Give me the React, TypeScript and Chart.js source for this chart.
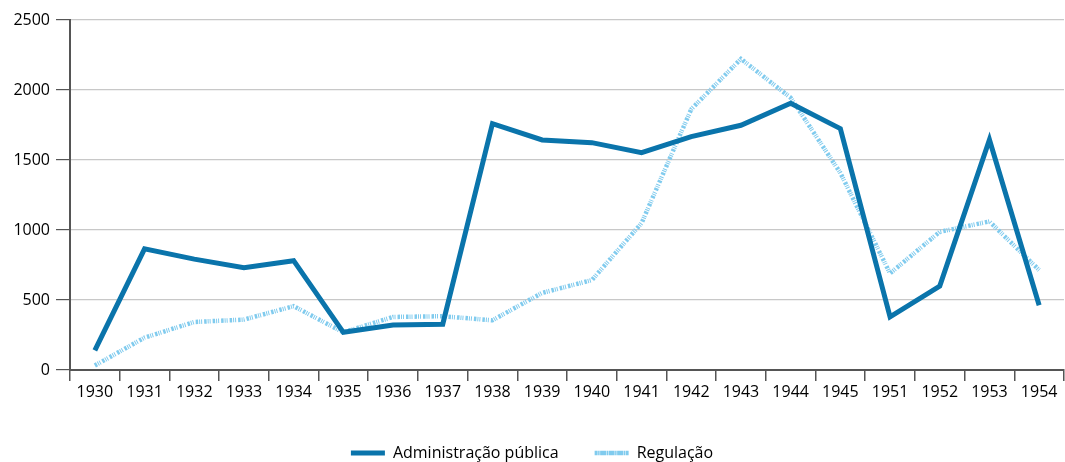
import React, { useEffect, useRef } from "react";
import { Chart, registerables } from "chart.js";

Chart.register(...registerables);

const years = ["1930","1931","1932","1933","1934","1935","1936","1937","1938","1939","1940","1941","1942","1943","1944","1945","1951","1952","1953","1954"];
const adminPublica = [140, 865, 792, 731, 781, 269, 322, 327, 1760, 1643, 1624, 1552, 1667, 1748, 1906, 1724, 379, 599, 1645, 463];
const regulacao = [32, 231, 343, 360, 456, 269, 379, 384, 355, 551, 642, 1049, 1863, 2222, 1945, 1408, 690, 987, 1061, 714];
const yTicks = [0, 500, 1000, 1500, 2000, 2500];

const FONT = "'Open Sans', 'Noto Sans', sans-serif";

export default function App() {
  const ref = useRef<HTMLCanvasElement | null>(null);
  useEffect(() => {
    document.body.style.margin = "0";
    const ctx = ref.current!.getContext("2d")!;
    const chart = new Chart(ctx, {
      type: "line",
      data: {
        labels: years,
        datasets: [
          {
            label: "Administração pública",
            data: adminPublica,
            borderColor: "#0a74ab",
            backgroundColor: "#0a74ab",
            borderWidth: 5,
            pointRadius: 0,
            tension: 0,
            borderJoinStyle: "miter",
          },
          {
            label: "Regulação",
            data: regulacao,
            borderColor: "#80cbee",
            backgroundColor: "#80cbee",
            borderWidth: 4.5,
            borderDash: [2.5, 1, 1, 1, 1, 2],
            pointRadius: 0,
            tension: 0,
          },
        ],
      },
      options: {
        animation: false,
        responsive: false,
        layout: { padding: { top: 20, right: 1, left: 0, bottom: -9 } },
        plugins: {
          tooltip: { enabled: false },
          legend: {
            position: "bottom",
            labels: {
              color: "#000",
              font: { family: FONT, size: 16 },
              usePointStyle: false,
              boxWidth: 34,
              boxHeight: 0,
              padding: 36,
            },
          },
        },
        scales: {
          x: {
            offset: true,
            grid: {
              offset: true,
              drawOnChartArea: false,
              drawTicks: true,
              tickLength: 11,
              color: "#555",
              lineWidth: 1.5,
            },
            border: { color: "#555", width: 2 },
            ticks: {
              color: "#000",
              font: { family: FONT, size: 16 },
              padding: 2,
              maxRotation: 0,
              autoSkip: false,
            },
            afterFit: (s: any) => {
              s.height = 39;
            },
          },
          y: {
            min: 0,
            max: 2500,
            afterBuildTicks: (s: any) => {
              s.ticks = yTicks.map((v) => ({ value: v }));
            },
            grid: {
              color: (c: any) => (c.tick && c.tick.value === 0 ? "#555" : "#c8c8c8"),
              lineWidth: 1.2,
              drawTicks: true,
              tickLength: 14,
              tickColor: "#555",
            },
            border: { color: "#555", width: 2 },
            ticks: {
              color: "#000",
              font: { family: FONT, size: 16 },
              padding: 6,
              callback: (v: any) => String(v),
            },
            afterFit: (s: any) => {
              s.width = 70;
            },
          },
        },
      },
    });
    return () => chart.destroy();
  }, []);
  return (
    <div style={{ position: "absolute", left: 0, top: 0, width: 1065, height: 462, background: "#fff" }}>
      <canvas ref={ref} width={1065} height={462} style={{ width: 1065, height: 462, display: "block" }} />
    </div>
  );
}
